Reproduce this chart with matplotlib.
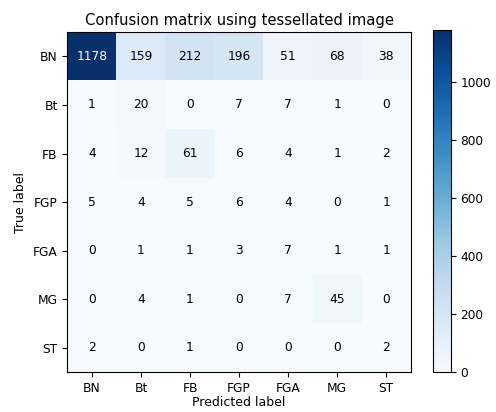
import matplotlib
matplotlib.use("Agg")
import matplotlib.pyplot as plt
import numpy as np

classes = ["BN", "Bt", "FB", "FGP", "FGA", "MG", "ST"]
row_BN = [1178, 159, 212, 196, 51, 68, 38]
row_Bt = [1, 20, 0, 7, 7, 1, 0]
row_FB = [4, 12, 61, 6, 4, 1, 2]
row_FGP = [5, 4, 5, 6, 4, 0, 1]
row_FGA = [0, 1, 1, 3, 7, 1, 1]
row_MG = [0, 4, 1, 0, 7, 45, 0]
row_ST = [2, 0, 1, 0, 0, 0, 2]

cm = np.array([row_BN, row_Bt, row_FB, row_FGP, row_FGA, row_MG, row_ST])

fig = plt.figure(figsize=(4.96, 4.12), dpi=100)
ax = fig.add_axes([0.136, 0.097, 0.692, 0.825])
im = ax.imshow(cm, interpolation="nearest", cmap=plt.cm.Blues, aspect="auto")
ax.set_title("Confusion matrix using tessellated image", fontsize=10.6, pad=5)
cax = fig.add_axes([0.873, 0.097, 0.036, 0.830])
cb = fig.colorbar(im, cax=cax)
cb.ax.tick_params(labelsize=8.7)
ticks = np.arange(len(classes))
ax.set_xticks(ticks)
ax.set_xticklabels(classes, fontsize=8.8)
ax.set_yticks(ticks)
ax.set_yticklabels(classes, fontsize=8.8)
thresh = cm.max() / 2.0
for i in range(cm.shape[0]):
    for j in range(cm.shape[1]):
        ax.text(j, i, format(cm[i, j], "d"), ha="center", va="center",
                color="white" if cm[i, j] > thresh else "black", fontsize=8.8)
ax.set_ylabel("True label", fontsize=9)
ax.set_xlabel("Predicted label", fontsize=9, labelpad=1)
fig.savefig("out.png", dpi=100)
